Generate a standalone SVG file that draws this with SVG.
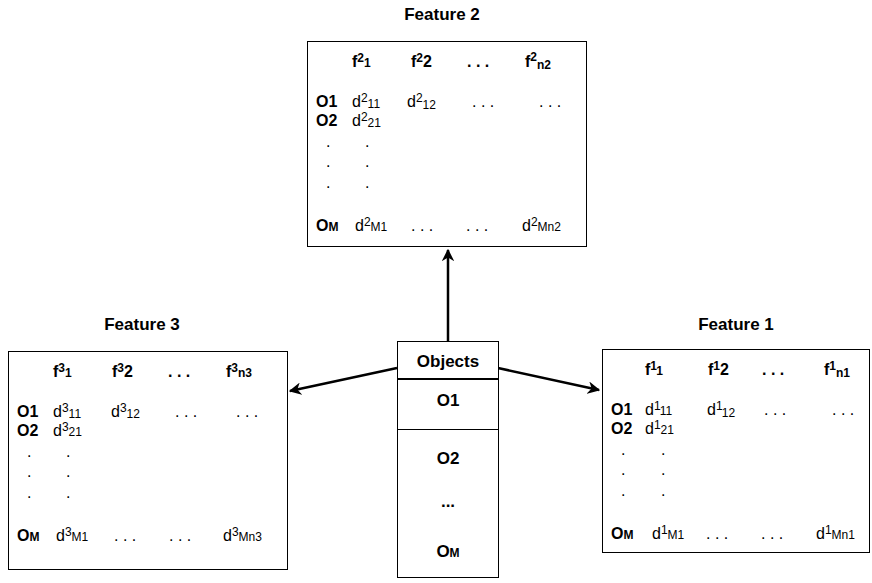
<svg xmlns="http://www.w3.org/2000/svg" width="872" height="583" viewBox="0 0 872 583">
<style>
text{font-family:"Liberation Sans",Arial,Helvetica,sans-serif;fill:#000;}
.title{font-size:17px;font-weight:bold;text-anchor:middle;}
.b{font-size:16px;font-weight:bold;}
.r{font-size:16px;}
.ob{font-size:17px;font-weight:bold;text-anchor:middle;}
.box{fill:#fff;stroke:#000;stroke-width:1;}
.s{font-size:12px;}
.conn{stroke:#000;stroke-width:2.5;fill:none;}
</style>
<defs>
<marker id="ah" viewBox="0 0 10 10" refX="9" refY="5" markerWidth="5" markerHeight="5" orient="auto" markerUnits="strokeWidth">
<path d="M0,0 L10,5 L0,10 L3,5 Z" fill="#000"/>
</marker>
</defs>

<g id="connectors">
<line class="conn" x1="448" y1="341" x2="448" y2="250" marker-end="url(#ah)"/>
<line class="conn" x1="397" y1="368" x2="290" y2="391" marker-end="url(#ah)"/>
<line class="conn" x1="498" y1="368" x2="599" y2="390" marker-end="url(#ah)"/>
</g>

<g id="feature2">
<text class="title" x="442" y="20">Feature 2</text>
<rect class="box" x="307.5" y="41.5" width="279" height="205"/>
<g transform="translate(307,41)">
<text class="b" x="45" y="26">f<tspan class="s" dy="-5">2</tspan><tspan class="s" dy="5">1</tspan></text>
<text class="b" x="104" y="26">f<tspan class="s" dy="-5">2</tspan><tspan dy="5">2</tspan></text>
<text class="b" x="160" y="26">. . .</text>
<text class="b" x="218" y="26">f<tspan class="s" dy="-6">2</tspan><tspan class="s" dy="8">n2</tspan></text>
<text class="b" x="9" y="66">O1</text>
<text class="r" x="45" y="66">d<tspan class="s" dy="-5">2</tspan><tspan class="s" dy="6">11</tspan></text>
<text class="r" x="100" y="66">d<tspan class="s" dy="-5">2</tspan><tspan class="s" dy="7">12</tspan></text>
<text class="r" x="165" y="66">. . .</text>
<text class="r" x="232" y="66">. . .</text>
<text class="b" x="9" y="85">O2</text>
<text class="r" x="45" y="85">d<tspan class="s" dy="-5">2</tspan><tspan class="s" dy="6">21</tspan></text>
<text class="r" x="19" y="106">.</text><text class="r" x="58" y="106">.</text>
<text class="r" x="19" y="126">.</text><text class="r" x="58" y="126">.</text>
<text class="r" x="19" y="147">.</text><text class="r" x="58" y="147">.</text>
<text class="b" x="9" y="190">O<tspan class="s">M</tspan></text>
<text class="r" x="48" y="190">d<tspan class="s" dy="-5">2</tspan><tspan class="s" dy="5">M1</tspan></text>
<text class="r" x="104" y="190">. . .</text>
<text class="r" x="159" y="190">. . .</text>
<text class="r" x="215" y="190">d<tspan class="s" dy="-5">2</tspan><tspan class="s" dy="5">Mn2</tspan></text>
</g>
</g>

<g id="feature3">
<text class="title" x="142" y="330">Feature 3</text>
<rect class="box" x="8.5" y="351.5" width="279" height="218"/>
<g transform="translate(8,351)">
<text class="b" x="45" y="26">f<tspan class="s" dy="-5">3</tspan><tspan class="s" dy="5">1</tspan></text>
<text class="b" x="104" y="26">f<tspan class="s" dy="-5">3</tspan><tspan dy="5">2</tspan></text>
<text class="b" x="160" y="26">. . .</text>
<text class="b" x="218" y="26">f<tspan class="s" dy="-5">3</tspan><tspan class="s" dy="5">n3</tspan></text>
<text class="b" x="9" y="66">O1</text>
<text class="r" x="45" y="66">d<tspan class="s" dy="-5">3</tspan><tspan class="s" dy="6">11</tspan></text>
<text class="r" x="103" y="66">d<tspan class="s" dy="-5">3</tspan><tspan class="s" dy="6">12</tspan></text>
<text class="r" x="167" y="66">. . .</text>
<text class="r" x="228" y="66">. . .</text>
<text class="b" x="9" y="85">O2</text>
<text class="r" x="45" y="85">d<tspan class="s" dy="-5">3</tspan><tspan class="s" dy="5">21</tspan></text>
<text class="r" x="19" y="106">.</text><text class="r" x="58" y="106">.</text>
<text class="r" x="19" y="126">.</text><text class="r" x="58" y="126">.</text>
<text class="r" x="19" y="147">.</text><text class="r" x="58" y="147">.</text>
<text class="b" x="9" y="190">O<tspan class="s">M</tspan></text>
<text class="r" x="48" y="190">d<tspan class="s" dy="-5">3</tspan><tspan class="s" dy="5">M1</tspan></text>
<text class="r" x="106" y="190">. . .</text>
<text class="r" x="161" y="190">. . .</text>
<text class="r" x="215" y="190">d<tspan class="s" dy="-5">3</tspan><tspan class="s" dy="5">Mn3</tspan></text>
</g>
</g>

<g id="feature1">
<text class="title" x="736" y="330">Feature 1</text>
<rect class="box" x="602.5" y="349.5" width="267" height="203"/>
<g transform="translate(602,349)">
<text class="b" x="43" y="26">f<tspan class="s" dy="-5">1</tspan><tspan class="s" dy="5">1</tspan></text>
<text class="b" x="106" y="26">f<tspan class="s" dy="-5">1</tspan><tspan dy="5">2</tspan></text>
<text class="b" x="160" y="26">. . .</text>
<text class="b" x="222" y="26">f<tspan class="s" dy="-5">1</tspan><tspan class="s" dy="7">n1</tspan></text>
<text class="b" x="9" y="66">O1</text>
<text class="r" x="43" y="66">d<tspan class="s" dy="-5">1</tspan><tspan class="s" dy="5">11</tspan></text>
<text class="r" x="105" y="66">d<tspan class="s" dy="-5">1</tspan><tspan class="s" dy="7">12</tspan></text>
<text class="r" x="162" y="66">. . .</text>
<text class="r" x="230" y="66">. . .</text>
<text class="b" x="9" y="85">O2</text>
<text class="r" x="43" y="85">d<tspan class="s" dy="-5">1</tspan><tspan class="s" dy="5">21</tspan></text>
<text class="r" x="19" y="106">.</text><text class="r" x="59" y="106">.</text>
<text class="r" x="19" y="126">.</text><text class="r" x="59" y="126">.</text>
<text class="r" x="19" y="147">.</text><text class="r" x="59" y="147">.</text>
<text class="b" x="9" y="190">O<tspan class="s">M</tspan></text>
<text class="r" x="50" y="190">d<tspan class="s" dy="-5">1</tspan><tspan class="s" dy="5">M1</tspan></text>
<text class="r" x="104" y="190">. . .</text>
<text class="r" x="159" y="190">. . .</text>
<text class="r" x="214" y="190">d<tspan class="s" dy="-5">1</tspan><tspan class="s" dy="5">Mn1</tspan></text>
</g>
</g>

<g id="objects">
<rect class="box" x="397.5" y="341.5" width="101" height="236"/>
<line x1="397" y1="379" x2="498" y2="379" stroke="#000" stroke-width="2"/>
<line x1="397" y1="429.5" x2="498" y2="429.5" stroke="#000" stroke-width="1"/>
<text class="ob" x="448" y="367">Objects</text>
<text class="ob" x="448" y="406">O1</text>
<text class="ob" x="448" y="464">O2</text>
<text class="ob" x="448" y="507">...</text>
<text class="ob" x="448" y="557">O<tspan class="s">M</tspan></text>
</g>
</svg>
